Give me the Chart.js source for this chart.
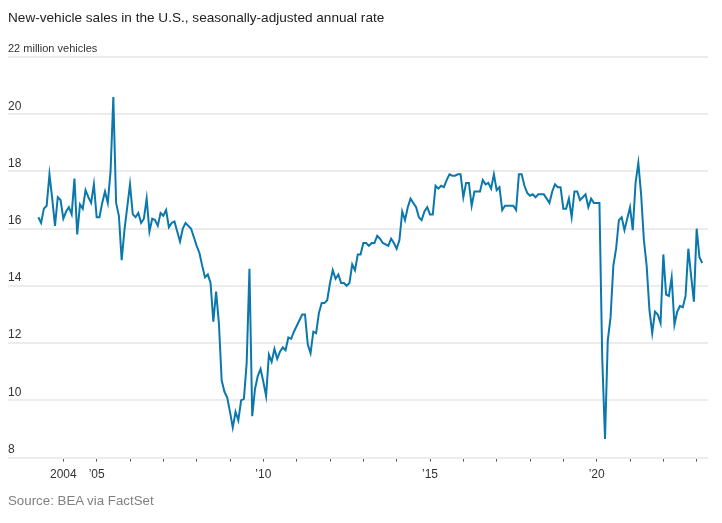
<!DOCTYPE html>
<html lang="en">
<head>
<meta charset="UTF-8">
<title>New-vehicle sales in the U.S.</title>
<script src="https://cdn.jsdelivr.net/npm/chart.js@4.4.1/dist/chart.umd.min.js"></script>
<style>
  body {
    margin: 0;
    padding: 0;
    background: #ffffff;
  }
  #wrap {
    position: relative;
    width: 722px;
    height: 523px;
  }
  #chart {
    position: absolute;
    left: 0;
    top: 0;
  }
  .title {
    position: absolute;
    left: 8px;
    top: 9px;
    font-family: "Liberation Sans", Arial, sans-serif;
    font-size: 13.6px;
    line-height: 18px;
    color: #222;
    white-space: nowrap;
  }
  .source {
    position: absolute;
    left: 8px;
    top: 493px;
    font-family: "Liberation Sans", Arial, sans-serif;
    font-size: 13.3px;
    line-height: 16px;
    color: #808080;
  }
</style>
</head>
<body>

<div id="wrap">
  <canvas id="chart" width="722" height="523"></canvas>
  <div class="title">New-vehicle sales in the U.S., seasonally-adjusted annual rate</div>
  <div class="source">Source: BEA via FactSet</div>
</div>

<script>
// first month of the series (April 2003), monthly after that
const startYear = 2003;
const startMonth = 4;

// SAAR, million vehicles, one row per year
const sales = [
  16.4, 16.2, 16.7, 16.8, 17.9, 17.05, 16.1, 17.1, 17.0,               // 2003 Apr-Dec
  16.35, 16.6, 16.75, 16.5, 17.75, 15.8, 16.85, 16.7, 17.35, 17.1, 16.9, 17.55, // 2004
  16.4, 16.4, 16.9, 17.3, 16.9, 18.0, 20.6, 16.9, 16.45, 14.9, 15.95, 16.75,    // 2005
  17.55, 16.5, 16.4, 16.55, 16.2, 16.35, 17.05, 15.9, 16.35, 16.3, 16.1, 16.55, // 2006
  16.45, 16.65, 16.05, 16.2, 16.25, 15.9, 15.55, 16.0, 16.2, 16.1, 16.0, 15.7,  // 2007
  15.4, 15.15, 14.7, 14.3, 14.4, 14.1, 12.75, 13.8, 12.7, 10.7, 10.3, 10.1,     // 2008
  9.6, 9.05, 9.6, 9.3, 10.0, 10.05, 11.3, 14.6, 9.45, 10.4, 10.85, 11.1,        // 2009
  10.65, 10.15, 11.6, 11.35, 11.8, 11.45, 11.7, 11.85, 11.75, 12.2, 12.15, 12.4, // 2010
  12.6, 12.8, 13.0, 13.0, 11.95, 11.65, 12.4, 12.35, 13.05, 13.4, 13.4, 13.5,   // 2011
  14.1, 14.55, 14.25, 14.4, 14.1, 14.1, 14.0, 14.1, 14.75, 14.55, 15.1, 15.1,   // 2012
  15.5, 15.5, 15.4, 15.5, 15.5, 15.75, 15.65, 15.5, 15.45, 15.4, 15.65, 15.5,   // 2013
  15.3, 15.6, 16.6, 16.3, 16.75, 17.05, 16.9, 16.75, 16.4, 16.3, 16.6, 16.75,   // 2014
  16.5, 16.5, 17.5, 17.4, 17.5, 17.45, 17.7, 17.9, 17.85, 17.85, 17.9, 17.9,    // 2015
  17.1, 17.6, 17.6, 16.8, 17.3, 17.3, 17.3, 17.7, 17.55, 17.6, 17.4, 17.9,      // 2016
  17.35, 17.45, 16.65, 16.8, 16.8, 16.8, 16.8, 16.65, 17.9, 17.9, 17.5, 17.25,  // 2017
  17.15, 17.2, 17.1, 17.2, 17.2, 17.2, 17.05, 16.9, 17.3, 17.55, 17.45, 17.45,  // 2018
  16.7, 16.7, 17.05, 16.4, 17.3, 17.3, 17.0, 17.1, 17.2, 16.75, 17.05, 16.9,    // 2019
  16.9, 16.9, 11.5, 8.65, 12.1, 12.9, 14.7, 15.3, 16.3, 16.4, 15.95, 16.35,     // 2020
  16.75, 15.95, 17.6, 18.3, 17.2, 15.6, 14.7, 13.15, 12.35, 13.1, 13.0, 12.7,   // 2021
  15.1, 13.7, 13.65, 14.3, 12.65, 13.1, 13.3, 13.25, 13.65, 15.3, 14.35, 13.45, // 2022
  16.0, 15.0, 14.8                                                             // 2023 Jan-Mar
];

const yearTicks = [2004, 2005, 2006, 2007, 2008, 2009, 2010, 2011, 2012, 2013,
                   2014, 2015, 2016, 2017, 2018, 2019, 2020, 2021, 2022, 2023];
const yearLabels = {2004: '2004', 2005: '\u201905', 2010: '\u201910', 2015: '\u201915', 2020: '\u201920'};
const valueTicks = [8, 10, 12, 14, 16, 18, 20, 22];

// x as decimal years so the year ticks fall on Jan 1
const points = sales.map((v, i) => ({
  x: startYear + (startMonth - 1 + i) / 12,
  y: v
}));

const fontFamily = '"Liberation Sans", Arial, sans-serif';

new Chart(document.getElementById('chart').getContext('2d'), {
  type: 'line',
  data: {
    datasets: [{
      data: points,
      borderColor: '#0a78ac',
      borderWidth: 2,
      pointRadius: 0,
      tension: 0,
      fill: false
    }]
  },
  options: {
    responsive: false,
    animation: false,
    layout: { padding: { left: 8, right: 14, top: 57, bottom: 35 } },
    plugins: {
      legend: { display: false },
      tooltip: { enabled: false }
    },
    scales: {
      x: {
        type: 'linear',
        min: 2002.34,
        max: 2023.34,
        afterBuildTicks: s => { s.ticks = yearTicks.map(v => ({ value: v })); },
        grid: {
          drawOnChartArea: false,
          drawTicks: true,
          tickLength: 4,
          color: '#555'
        },
        border: { display: false },
        ticks: {
          autoSkip: false,
          maxRotation: 0,
          padding: 6,
          color: '#333',
          font: { family: fontFamily, size: 12 },
          callback: v => yearLabels[v] || ''
        }
      },
      y: {
        min: 8,
        max: 22,
        afterBuildTicks: s => { s.ticks = valueTicks.map(v => ({ value: v })); },
        grid: {
          color: '#ececec',
          lineWidth: 2,
          drawTicks: false
        },
        border: { display: false },
        ticks: {
          mirror: true,
          padding: 0,
          labelOffset: -8,
          color: '#333',
          font: ctx => ({ family: fontFamily, size: ctx.tick && ctx.tick.value === 22 ? 11 : 12 }),
          callback: v => v === 22 ? '22 million vehicles' : v
        }
      }
    }
  }
});
</script>

</body>
</html>
